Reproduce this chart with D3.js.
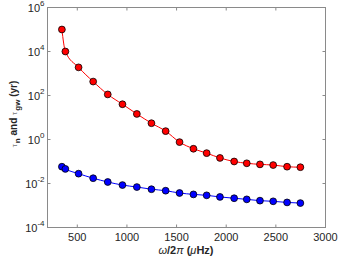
<!DOCTYPE html>
<meta charset="utf-8">
<head>
<script src="https://d3js.org/d3.v7.min.js"></script>
<style>
  body { margin: 0; background: #fff; }
  text { font-family: "Liberation Sans", Arial, sans-serif; fill: #262626; }
</style>
</head>
<body>
<svg width="340" height="258"></svg>
<script>
// frequency omega/2pi (uHz)
var freq = [345, 380, 513, 660, 807, 955, 1100, 1247, 1390, 1530, 1670, 1803, 1937, 2080, 2207, 2340, 2473, 2613, 2747];
// tau_gw (yr), red
var tauGw = [1.0e5, 1.0e4, 1900, 430, 112, 40, 14.5, 5.5, 2.4, 0.76, 0.38, 0.24, 0.145, 0.10, 0.083, 0.074, 0.069, 0.058, 0.055];
// tau_n (yr), blue
var tauN = [0.058, 0.046, 0.028, 0.0174, 0.0117, 0.0085, 0.0069, 0.0055, 0.0047, 0.0037, 0.0032, 0.0029, 0.00245, 0.00214, 0.0019, 0.00166, 0.00155, 0.00138, 0.00129];
var xTicks = [500, 1000, 1500, 2000, 2500, 3000];
var yTicks = [1e-4, 1e-2, 1, 1e2, 1e4, 1e6];

var svg = d3.select("svg");
var margin = {top: 7.5, right: 14.5, bottom: 30.5, left: 47.5};
var width = 340 - margin.left - margin.right;
var height = 258 - margin.top - margin.bottom;

var x = d3.scaleLinear().domain([200, 3000]).range([0, width]);
var y = d3.scaleLog().domain([1e-4, 1e6]).range([height, 0]);

var g = svg.append("g").attr("transform", "translate(" + margin.left + "," + margin.top + ")");

// box
g.append("rect").attr("width", width).attr("height", height)
  .attr("fill", "none").attr("stroke", "#8a8a8a").attr("stroke-width", 1);

// ticks (inward, all four sides)
xTicks.forEach(function(t) {
  g.append("line").attr("x1", x(t)).attr("x2", x(t)).attr("y1", height).attr("y2", height - 3).attr("stroke", "#8a8a8a");
  g.append("line").attr("x1", x(t)).attr("x2", x(t)).attr("y1", 0).attr("y2", 3).attr("stroke", "#8a8a8a");
  g.append("text").attr("x", x(t)).attr("y", height + 13).attr("text-anchor", "middle")
    .style("font-size", "11px").text(t);
});
yTicks.forEach(function(t) {
  g.append("line").attr("x1", 0).attr("x2", 3).attr("y1", y(t)).attr("y2", y(t)).attr("stroke", "#8a8a8a");
  g.append("line").attr("x1", width).attr("x2", width - 3).attr("y1", y(t)).attr("y2", y(t)).attr("stroke", "#8a8a8a");
  var e = Math.round(Math.log10(t));
  var lab = g.append("text").attr("x", -3).attr("y", y(t) + 4).attr("text-anchor", "end").style("font-size", "11px");
  lab.append("tspan").text("10");
  lab.append("tspan").attr("dy", -6).style("font-size", "8px").text(e);
});

var line = d3.line().curve(d3.curveMonotoneX)
  .x(function(d) { return x(d[0]); })
  .y(function(d) { return y(d[1]); });

function series(vals, color) {
  var pts = freq.map(function(f, i) { return [f, vals[i]]; });
  g.append("path").datum(pts).attr("d", line)
    .attr("fill", "none").attr("stroke", color).attr("stroke-width", 1);
  g.append("g").selectAll("circle").data(pts).enter().append("circle")
    .attr("cx", function(d) { return x(d[0]); })
    .attr("cy", function(d) { return y(d[1]); })
    .attr("r", 3.4)
    .attr("fill", color).attr("stroke", "#000").attr("stroke-width", 0.8);
}
series(tauGw, "#ff0000");
series(tauN, "#0000ff");

// axis labels
var xl = svg.append("text").attr("x", 186).attr("y", 254).attr("text-anchor", "middle")
  .style("font-size", "11px").style("font-weight", "bold");
xl.append("tspan").style("font-weight", "normal").style("font-style", "italic").text("ω");
xl.append("tspan").text("/2");
xl.append("tspan").style("font-weight", "normal").style("font-style", "italic").text("π");
xl.append("tspan").text(" (");
xl.append("tspan").style("font-weight", "normal").style("font-style", "italic").text("μ");
xl.append("tspan").text("Hz)");

var yl = svg.append("text").attr("transform", "translate(17,114) rotate(-90)")
  .attr("text-anchor", "middle").style("font-size", "10px").style("font-weight", "bold");
yl.append("tspan").style("font-weight", "normal").style("font-size", "8px").style("fill", "#777").text("τ");
yl.append("tspan").attr("dx", 1).attr("dy", 3).style("font-size", "8px").text("n");
yl.append("tspan").attr("dy", -3).text(" and ");
yl.append("tspan").style("font-weight", "normal").style("font-size", "8px").style("fill", "#777").text("τ");
yl.append("tspan").attr("dx", 1).attr("dy", 3).style("font-size", "8px").text("gw");
yl.append("tspan").attr("dy", -3).text(" (yr)");
</script>
</body>
